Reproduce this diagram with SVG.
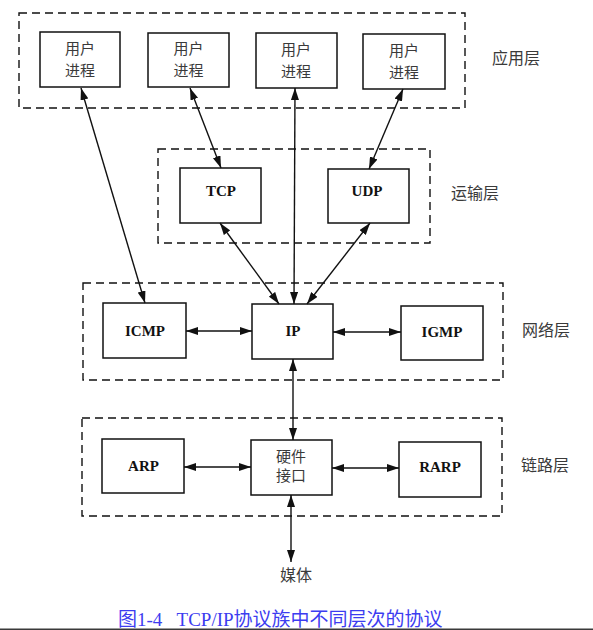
<svg xmlns="http://www.w3.org/2000/svg" width="593" height="630" viewBox="0 0 593 630">
<style>
.layer{fill:none;stroke:#111;stroke-width:1.4;stroke-dasharray:8,5}
.box{fill:#fff;stroke:#111;stroke-width:1.5}
.cn{font-family:"Noto Sans CJK SC","Noto Sans",sans-serif;font-size:15px;fill:#3a3a3a;text-anchor:middle}
.lbl{font-family:"Noto Sans CJK SC","Noto Sans",sans-serif;font-size:16px;fill:#3a3a3a}
.pr{font-family:"Liberation Serif",serif;font-weight:bold;font-size:15px;fill:#111;text-anchor:middle}
.conn line{stroke:#111;stroke-width:1.4;marker-start:url(#ah);marker-end:url(#ah)}
</style>
<defs>
<marker id="ah" markerUnits="userSpaceOnUse" markerWidth="13" markerHeight="8" refX="12" refY="4" orient="auto-start-reverse">
<path d="M0,0 L12,4 L0,8 z" fill="#111"/>
</marker>
</defs>
<rect width="593" height="630" fill="#fff"/>
<g id="layers">
<rect class="layer" x="19" y="13" width="446" height="95"/>
<rect class="layer" x="158" y="149" width="272" height="94"/>
<rect class="layer" x="83" y="283" width="420" height="97"/>
<rect class="layer" x="82" y="418" width="420" height="98"/>
<text class="lbl" x="492" y="64">应用层</text>
<text class="lbl" x="451" y="199">运输层</text>
<text class="lbl" x="522" y="336">网络层</text>
<text class="lbl" x="521" y="471">链路层</text>
</g>
<g id="proc1"><rect class="box" x="40" y="32" width="80" height="55"/><text class="cn" x="80" y="53.5">用户</text><text class="cn" x="80" y="75.5">进程</text></g>
<g id="proc2"><rect class="box" x="148" y="33" width="81" height="54"/><text class="cn" x="188.5" y="53.5">用户</text><text class="cn" x="188.5" y="75.5">进程</text></g>
<g id="proc3"><rect class="box" x="256" y="33" width="81" height="55"/><text class="cn" x="296" y="54.5">用户</text><text class="cn" x="296" y="76.5">进程</text></g>
<g id="proc4"><rect class="box" x="363" y="34" width="82" height="55"/><text class="cn" x="404" y="55.5">用户</text><text class="cn" x="404" y="77.5">进程</text></g>
<g id="tcp"><rect class="box" x="180" y="168" width="81" height="55"/><text class="pr" x="221" y="196">TCP</text></g>
<g id="udp"><rect class="box" x="328" y="169" width="81" height="54"/><text class="pr" x="367" y="196">UDP</text></g>
<g id="icmp"><rect class="box" x="103" y="303" width="83" height="55"/><text class="pr" x="145" y="336">ICMP</text></g>
<g id="ip"><rect class="box" x="252" y="304" width="81" height="55"/><text class="pr" x="293" y="336">IP</text></g>
<g id="igmp"><rect class="box" x="401" y="306" width="82" height="54"/><text class="pr" x="442" y="337">IGMP</text></g>
<g id="arp"><rect class="box" x="102" y="439" width="82" height="54"/><text class="pr" x="143.5" y="471">ARP</text></g>
<g id="hw"><rect class="box" x="251" y="440" width="81" height="55"/><text class="cn" x="291" y="461.5">硬件</text><text class="cn" x="291" y="481">接口</text></g>
<g id="rarp"><rect class="box" x="399" y="442" width="82" height="55"/><text class="pr" x="440" y="472">RARP</text></g>
<g id="media"><text class="cn" x="296" y="581" style="font-size:16px">媒体</text></g>
<g class="conn" id="connectors">
<line x1="81" y1="88" x2="145" y2="303"/>
<line x1="190" y1="88" x2="221" y2="168"/>
<line x1="295" y1="88" x2="294" y2="304"/>
<line x1="403" y1="89" x2="369" y2="169"/>
<line x1="220" y1="223" x2="279" y2="304"/>
<line x1="370" y1="223" x2="307" y2="304"/>
<line x1="186" y1="331" x2="252" y2="331"/>
<line x1="333" y1="332" x2="401" y2="332"/>
<line x1="293" y1="359" x2="293" y2="440"/>
<line x1="184" y1="467" x2="251" y2="467"/>
<line x1="332" y1="468" x2="399" y2="468"/>
<line x1="291" y1="495" x2="291" y2="562"/>
</g>
<text x="118" y="626" font-family="Liberation Serif,Noto Sans CJK SC,serif" font-size="19" fill="#3c3cf0" xml:space="preserve">图1-4   TCP/IP协议族中不同层次的协议</text>
<rect x="0" y="628.5" width="593" height="1.5" fill="#3a3a3a"/>
</svg>
